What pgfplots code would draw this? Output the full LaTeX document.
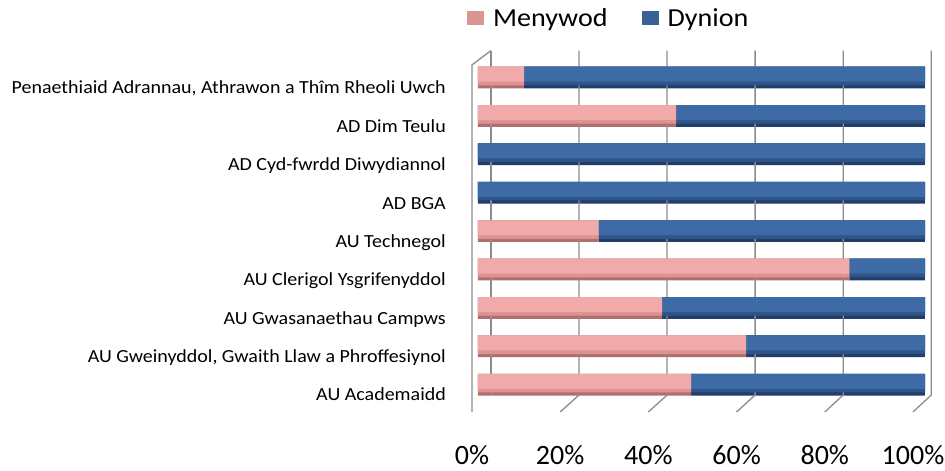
\documentclass[border=0pt]{standalone}
\usepackage{fontspec}
\setmainfont{Carlito}
\newfontfamily\labfont{Carlito}[FakeStretch=1.08]
\usepackage{pgfplots}
\usepackage{pgfplotstable}
\pgfplotsset{compat=1.18}
\definecolor{pinkTop}{RGB}{241,170,170}
\definecolor{pinkMid}{RGB}{222,146,146}
\definecolor{pinkBot}{RGB}{176,110,110}
\definecolor{pinkLeg}{RGB}{219,150,148}
\definecolor{blueTop}{RGB}{62,106,166}
\definecolor{blueMid}{RGB}{46,84,136}
\definecolor{blueBot}{RGB}{32,62,104}
\definecolor{blueLeg}{RGB}{56,97,150}
\definecolor{gridc}{RGB}{140,140,140}
\pgfplotstableread{
row men dyn
0 47.7 52.3
1 60.0 40.0
2 41.2 58.8
3 83.1 16.9
4 27.0 73.0
5 0 100
6 0 100
7 44.3 55.7
8 10.3 89.7
}\datatable
\pgfplotsset{
  base/.style={
    at={(472pt,67.1pt)}, anchor=south west,
    scale only axis, width=459.25pt, height=345.6pt,
    xbar stacked,
    xmin=-1.34, xmax=101.4, ymin=-0.5, ymax=8.5,
    clip=false,
    axis line style={draw=none}, tick style={draw=none},
  }
}
\begin{document}
\begin{tikzpicture}
\path[use as bounding box] (0,0) rectangle (945pt,471pt);
% layer 1: full bars (dark lower edge) + labels, grid, legend
\begin{axis}[base, bar width=21.7pt,
  xtick={-1.34,18.39,38.12,57.85,77.58,97.31},
  xticklabels={0\%,20\%,40\%,60\%,80\%,100\%},
  xticklabel style={font=\fontsize{28}{32}\selectfont, anchor=base, inner sep=0pt, yshift=-61pt},
  ytick={0,...,8},
  yticklabels={AU Academaidd,{AU Gweinyddol, Gwaith Llaw a Phroffesiynol},AU Gwasanaethau Campws,AU Clerigol Ysgrifenyddol,AU Technegol,AD BGA,AD Cyd-fwrdd Diwydiannol,AD Dim Teulu,{Penaethiaid Adrannau, Athrawon a Thîm Rheoli Uwch}},
  yticklabel style={font=\labfont\fontsize{18.5}{22}\selectfont, anchor=base east, inner sep=0pt, xshift=-26pt, yshift=-16.3pt},
  legend columns=2,
  legend style={at={(axis description cs:-0.0109,1.1166)}, anchor=west, draw=none, fill=none, inner sep=0pt,
    font=\labfont\fontsize{26}{30}\selectfont, nodes={inner sep=0pt},
    /tikz/column sep=9pt, /tikz/every even column/.append style={column sep=34pt}},
]
\draw[gridc, line width=1.3pt] (axis cs:2.9,8.7) -- (axis cs:-1.34,8.33) -- (axis cs:-1.34,-0.71);
\draw[gridc, line width=1.3pt] (axis cs:2.9,8.7) -- (axis cs:2.9,-0.27);
\draw[gridc, line width=1.3pt] (axis cs:22.6,8.7) -- (axis cs:22.6,-0.27) -- (axis cs:18.39,-0.71);
\draw[gridc, line width=1.3pt] (axis cs:42.3,8.7) -- (axis cs:42.3,-0.27) -- (axis cs:38.12,-0.71);
\draw[gridc, line width=1.3pt] (axis cs:62.0,8.7) -- (axis cs:62.0,-0.27) -- (axis cs:57.85,-0.71);
\draw[gridc, line width=1.3pt] (axis cs:81.7,8.7) -- (axis cs:81.7,-0.27) -- (axis cs:77.58,-0.71);
\draw[gridc, line width=1.3pt] (axis cs:101.4,8.7) -- (axis cs:101.4,-0.27) -- (axis cs:97.31,-0.71);
\addplot[draw=none, fill=pinkBot,
  legend image code/.code={\fill[pinkLeg] (0pt,-7pt) rectangle (17pt,7pt);}]
  table[x=men, y=row] {\datatable};
\addlegendentry{Menywod}
\addplot[draw=none, fill=blueBot,
  legend image code/.code={\fill[blueLeg] (0pt,-7pt) rectangle (17pt,7pt);}]
  table[x=dyn, y=row] {\datatable};
\addlegendentry{Dynion}
\end{axis}
% layer 2: body of the cylinder
\begin{axis}[base, hide axis, bar width=18.6pt, bar shift=1.55pt]
\addplot[draw=none, fill=pinkMid] table[x=men, y=row] {\datatable};
\addplot[draw=none, fill=blueMid] table[x=dyn, y=row] {\datatable};
\end{axis}
% layer 3: lit upper part
\begin{axis}[base, hide axis, bar width=15pt, bar shift=3.35pt]
\addplot[draw=none, fill=pinkTop] table[x=men, y=row] {\datatable};
\addplot[draw=none, fill=blueTop] table[x=dyn, y=row] {\datatable};
\end{axis}
\end{tikzpicture}
\end{document}
